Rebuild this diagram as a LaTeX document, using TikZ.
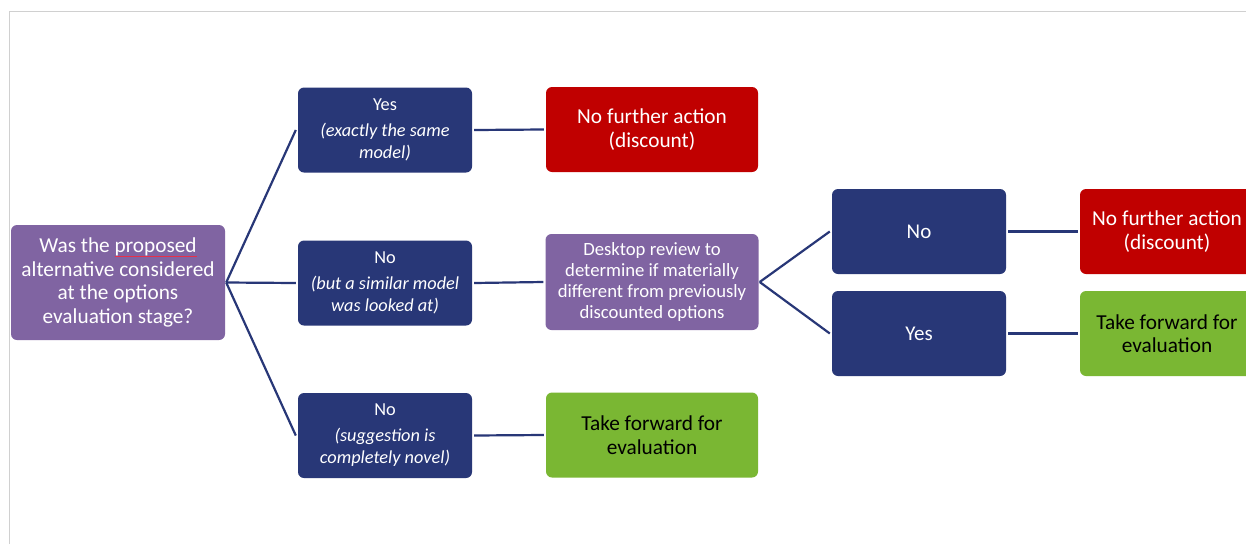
\documentclass[tikz,border=0pt]{standalone}
\usepackage{fontspec}
\setmainfont{Carlito}
\definecolor{navy}{HTML}{283777}
\definecolor{plum}{HTML}{8064A2}
\definecolor{stopred}{HTML}{C00000}
\definecolor{gogreen}{HTML}{7AB733}
\definecolor{frame}{HTML}{D0D0D0}
\definecolor{squiggle}{HTML}{E8304A}
\newlength\spellwd
\newcommand\spellmark[1]{\settowidth\spellwd{#1}\makebox[0pt][l]{\color{squiggle}\rule[-4pt]{\spellwd}{1pt}}#1}
\tikzset{
  box/.style={rounded corners=6pt, inner sep=0pt, align=center, text=white},
  question/.style={box, fill=plum, minimum width=214pt, minimum height=115pt, font=\fontsize{21.3}{23.4}\selectfont},
  review/.style={box, fill=plum, minimum width=213pt, minimum height=96pt, font=\fontsize{18.7}{20.7}\selectfont},
  answer/.style={box, fill=navy, minimum width=174pt, minimum height=85pt, font=\fontsize{18.3}{22}\selectfont},
  bigans/.style={box, fill=navy, minimum width=174pt, minimum height=85pt, font=\fontsize{21}{23}\selectfont},
  stopbox/.style={box, fill=stopred, minimum height=85pt, font=\fontsize{21.3}{23.4}\selectfont},
  gobox/.style={box, fill=gogreen, text=black, minimum height=85pt, font=\fontsize{21.3}{23.4}\selectfont},
  link/.style={draw=navy, line width=2.2pt}
}
\begin{document}
\begin{tikzpicture}[x=1pt, y=-1pt]
\useasboundingbox (0,0) rectangle (1246,544);
\fill[white] (0,0) rectangle (1246,544);
% page frame
\draw[frame, line width=1pt] (9,544) -- (9,11) -- (1246,11);

\begin{scope}
\clip (0,0) rectangle (1246,544);
% root question
\node[question] (root) at (118,282.5) {Was the \spellmark{proposed}\\alternative considered\\at the options\\evaluation stage?};

% first-level answers
\node[answer] (yes) at (385,130) {Yes\\[4pt]\itshape (exactly the same\\\itshape model)};
\node[answer] (nosim) at (385,283) {No\\[4pt]\itshape (but a similar model\\\itshape was looked at)};
\node[answer] (nonew) at (385,435.5) {No\\[4pt]\itshape (suggestion is\\\itshape completely novel)};

% outcomes of first level
\node[stopbox, minimum width=212pt] (stop1) at (652,129.5) {No further action\\(discount)};
\node[review] (desk) at (652,282) {Desktop review to\\determine if materially\\different from previously\\discounted options};
\node[gobox, minimum width=212pt] (go1) at (652,435) {Take forward for\\evaluation};

% second-level answers
\node[bigans] (no2) at (919,231.5) {No};
\node[bigans] (yes2) at (919,333.5) {Yes};

% outcomes of second level
\node[stopbox, minimum width=174pt] (stop2) at (1167,231.5) {No further action\\(discount)};
\node[gobox, minimum width=174pt] (go2) at (1167,333.5) {Take forward for\\evaluation};
\end{scope}

% connectors
\draw[link] ([xshift=1pt]root.east) -- ([xshift=-2pt]yes.west);
\draw[link] ([xshift=1pt]root.east) -- ([xshift=-2pt]nosim.west);
\draw[link] ([xshift=1pt]root.east) -- ([xshift=-2pt]nonew.west);
\draw[link] ([xshift=2pt]yes.east) -- ([xshift=-2pt]stop1.west);
\draw[link] ([xshift=2pt]nosim.east) -- ([xshift=-2pt]desk.west);
\draw[link] ([xshift=2pt]nonew.east) -- ([xshift=-2pt]go1.west);
\draw[link] ([xshift=1pt]desk.east) -- ([xshift=-2pt]no2.west);
\draw[link] ([xshift=1pt]desk.east) -- ([xshift=-2pt]yes2.west);
\draw[link] ([xshift=2pt]no2.east) -- ([xshift=-2pt]stop2.west);
\draw[link] ([xshift=2pt]yes2.east) -- ([xshift=-2pt]go2.west);
\end{tikzpicture}
\end{document}
